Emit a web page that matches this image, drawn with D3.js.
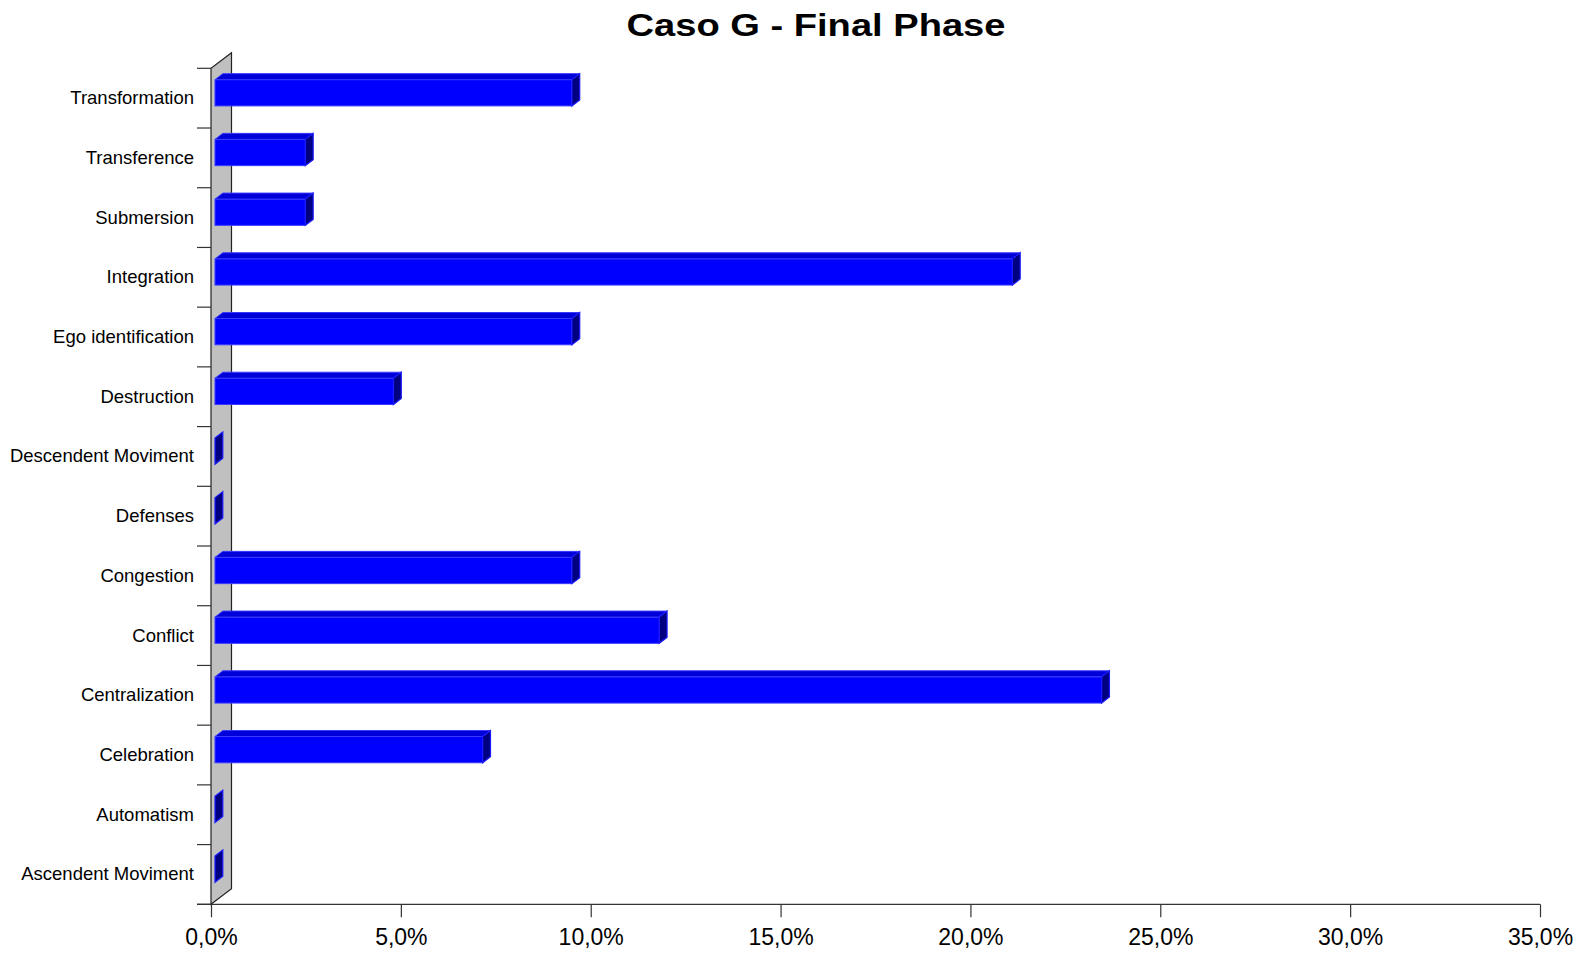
<!DOCTYPE html>
<html>
<head>
<meta charset="utf-8">
<script src="https://cdn.jsdelivr.net/npm/d3@7"></script>
<style>
  html, body { margin: 0; padding: 0; background: #fff; }
  svg { display: block; font-family: "Liberation Sans", Arial, sans-serif; }
</style>
</head>
<body>
<svg id="chart" width="1589" height="955"></svg>
<script>
// Categories, listed bottom to top as in the chart
const categories = [
  "Ascendent Moviment", "Automatism", "Celebration", "Centralization",
  "Conflict", "Congestion", "Defenses", "Descendent Moviment",
  "Destruction", "Ego identification", "Integration", "Submersion",
  "Transference", "Transformation"
];
// Share of occurrences, in percent
const values = [
  0, 0, 7.05, 23.35,
  11.7, 9.4, 0, 0,
  4.7, 9.4, 21.0, 2.38,
  2.38, 9.4
];
const xTicks = [0, 5, 10, 15, 20, 25, 30, 35];
const title = "Caso G - Final Phase";

const svg = d3.select("#chart");

const plot = { left: 211, right: 1540, top: 68.3, bottom: 904.3 };
const wallDepth = { dx: 20.5, dy: -15.6 };
const barDepth = { x: 4, dx: 7.8, dy: -6 };

const x = d3.scaleLinear().domain([0, 35]).range([plot.left, plot.right]);
const y = d3.scaleBand().domain(categories).range([plot.bottom, plot.top]).paddingInner(0).paddingOuter(0);
const bw = y.bandwidth();

const fmt = v => v.toFixed(1).replace(".", ",") + "%";

// Title
svg.append("text")
  .attr("x", 816).attr("y", 36)
  .attr("text-anchor", "middle")
  .attr("font-size", 32).attr("font-weight", "bold")
  .attr("textLength", 379).attr("lengthAdjust", "spacingAndGlyphs")
  .text(title);

// Side wall of the 3D plot
svg.append("polygon")
  .attr("points", [
    [plot.left, plot.bottom],
    [plot.left, plot.top],
    [plot.left + wallDepth.dx, plot.top + wallDepth.dy],
    [plot.left + wallDepth.dx, plot.bottom + wallDepth.dy]
  ].map(p => p.join(",")).join(" "))
  .attr("fill", "#c0c0c0")
  .attr("stroke", "#222")
  .attr("stroke-width", 1.2);

// Category boundary ticks
const boundaries = categories.map(c => y(c)).concat([plot.bottom]);
svg.append("g").selectAll("line").data(boundaries).join("line")
  .attr("x1", plot.left - 14).attr("x2", plot.left)
  .attr("y1", d => d).attr("y2", d => d)
  .attr("stroke", "#333").attr("stroke-width", 1.2);

// Category labels
const yAxis = svg.append("g")
  .attr("transform", `translate(${plot.left},0)`)
  .call(d3.axisLeft(y).tickSize(0).tickPadding(17));
yAxis.select(".domain").remove();
yAxis.selectAll("text")
  .attr("font-size", 18.5)
  .attr("font-family", "Liberation Sans, Arial, sans-serif")
  .attr("fill", "#000")
  .attr("dy", 6);

// Value axis
const xAxis = svg.append("g")
  .attr("transform", `translate(0,${plot.bottom})`)
  .call(d3.axisBottom(x).tickValues(xTicks).tickFormat(fmt).tickSize(13).tickSizeOuter(0));
xAxis.select(".domain").remove();
xAxis.selectAll(".tick line").attr("stroke", "#333").attr("stroke-width", 1.2);
xAxis.selectAll("text")
  .attr("font-size", 23)
  .attr("font-family", "Liberation Sans, Arial, sans-serif")
  .attr("fill", "#000")
  .attr("y", 41.2).attr("dy", 0);
svg.append("line")
  .attr("x1", plot.left - 14).attr("x2", plot.right)
  .attr("y1", plot.bottom).attr("y2", plot.bottom)
  .attr("stroke", "#333").attr("stroke-width", 1.2);

// 3D bars
const data = categories.map((c, i) => ({ cat: c, value: values[i] }));
const bars = svg.append("g").selectAll("g").data(data).join("g");

const geom = d => {
  const x0 = x(0) + barDepth.x;
  const x1 = x(d.value) + barDepth.x;
  const yT = y(d.cat) + 0.19 * bw;
  const yB = yT + 0.44 * bw;
  return { x0, x1, yT, yB, dx: barDepth.dx, dy: barDepth.dy };
};
const pts = arr => arr.map(p => p.join(",")).join(" ");

bars.filter(d => d.value > 0).append("rect")
  .attr("x", d => geom(d).x0)
  .attr("y", d => geom(d).yT)
  .attr("width", d => geom(d).x1 - geom(d).x0)
  .attr("height", d => geom(d).yB - geom(d).yT)
  .attr("fill", "#0000ff")
  .attr("stroke", "#3a3aff").attr("stroke-width", 1);

bars.filter(d => d.value > 0).append("polygon")
  .attr("points", d => {
    const g = geom(d);
    return pts([[g.x0, g.yT], [g.x0 + g.dx, g.yT + g.dy], [g.x1 + g.dx, g.yT + g.dy], [g.x1, g.yT]]);
  })
  .attr("fill", "#0000d8")
  .attr("stroke", "#3a3aff").attr("stroke-width", 1);

bars.append("polygon")
  .attr("points", d => {
    const g = geom(d);
    return pts([[g.x1, g.yT], [g.x1 + g.dx, g.yT + g.dy], [g.x1 + g.dx, g.yB + g.dy], [g.x1, g.yB]]);
  })
  .attr("fill", "#000080")
  .attr("stroke", "#1a1aff").attr("stroke-width", 1.2);
</script>
</body>
</html>
